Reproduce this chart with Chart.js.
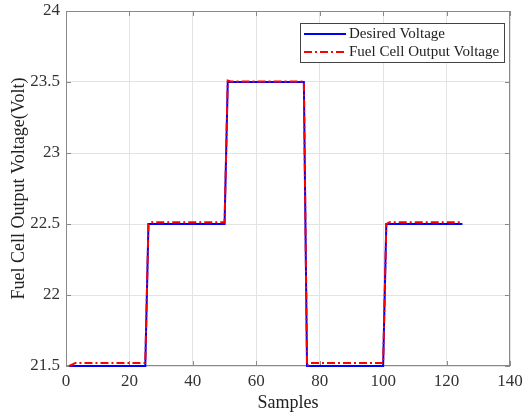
<!DOCTYPE html>
<html lang="en">
<head>
  <meta charset="UTF-8" />
  <title>Fuel Cell Output Voltage</title>
  <script src="https://cdn.jsdelivr.net/npm/chart.js"></script>
  <style>
    body {
      margin: 0;
      padding: 0;
      background: #fff;
    }
    #grafico {
      display: block;
    }
  </style>
</head>
<body>
  <canvas id="grafico" width="528" height="414"></canvas>

  <script>
    // step corners of each series (samples, volts)
    const desiredSamples = [1, 25, 26, 50, 51, 75, 76, 100, 101, 125];
    const desiredVolts   = [21.5, 21.5, 22.5, 22.5, 23.5, 23.5, 21.5, 21.5, 22.5, 22.5];

    const outputSamples = [1, 3, 25, 26, 27, 50, 51, 52, 75, 76, 77, 100, 101, 102, 125];
    const outputVolts   = [21.5, 21.522, 21.522, 22.5, 22.512, 22.512, 23.51, 23.503, 23.503, 21.5, 21.522, 21.522, 22.5, 22.513, 22.513];

    const xTicks = [0, 20, 40, 60, 80, 100, 120, 140];
    const yTicks = [21.5, 22, 22.5, 23, 23.5, 24];

    const serif = "'Liberation Serif', 'Times New Roman', serif";
    const frameColor = '#8a8a8a';

    function pontos(xs, ys) {
      return xs.map((x, i) => ({ x: x, y: ys[i] }));
    }

    // box round the plot + inward ticks, like matlab
    const molduraPlugin = {
      id: 'moldura',
      beforeDatasetsDraw(chart) {
        const { ctx, chartArea: a, scales } = chart;
        ctx.save();
        ctx.strokeStyle = frameColor;
        ctx.lineWidth = 1;
        ctx.strokeRect(a.left + 0.5, a.top + 0.5, a.right - a.left - 1, a.bottom - a.top - 1);
        ctx.beginPath();
        xTicks.forEach(v => {
          const px = Math.round(scales.x.getPixelForValue(v)) + 0.5;
          ctx.moveTo(px, a.bottom); ctx.lineTo(px, a.bottom - 5);
          ctx.moveTo(px, a.top); ctx.lineTo(px, a.top + 5);
        });
        yTicks.forEach(v => {
          const py = Math.round(scales.y.getPixelForValue(v)) + 0.5;
          ctx.moveTo(a.left, py); ctx.lineTo(a.left + 5, py);
          ctx.moveTo(a.right, py); ctx.lineTo(a.right - 5, py);
        });
        ctx.stroke();
        ctx.restore();
      }
    };

    // legend box inside the top right corner
    const legendaPlugin = {
      id: 'legenda',
      afterDraw(chart) {
        const { ctx, chartArea: a } = chart;
        const itens = [chart.data.datasets[0], chart.data.datasets[1]];
        const w = 204, h = 39;
        const x0 = a.right - 6 - w, y0 = a.top + 12;
        ctx.save();
        ctx.fillStyle = '#fff';
        ctx.fillRect(x0, y0, w, h);
        ctx.strokeStyle = '#444';
        ctx.lineWidth = 1;
        ctx.strokeRect(x0 + 0.5, y0 + 0.5, w, h);
        ctx.font = '15px ' + serif;
        ctx.textBaseline = 'middle';
        itens.forEach((ds, i) => {
          const yy = y0 + 11 + i * 18;
          ctx.beginPath();
          ctx.strokeStyle = ds.borderColor;
          ctx.lineWidth = 2;
          ctx.setLineDash(ds.borderDash || []);
          ctx.moveTo(x0 + 4, yy);
          ctx.lineTo(x0 + 46, yy);
          ctx.stroke();
          ctx.setLineDash([]);
          ctx.fillStyle = '#222';
          ctx.fillText(ds.label, x0 + 49, yy);
        });
        ctx.restore();
      }
    };

    const ctx = document.getElementById('grafico').getContext('2d');
    new Chart(ctx, {
      type: 'line',
      data: {
        datasets: [{
          label: 'Desired Voltage',
          data: pontos(desiredSamples, desiredVolts),
          borderColor: '#0000ff',
          borderWidth: 2,
          pointRadius: 0,
          tension: 0,
          clip: false,
          order: 2
        }, {
          label: 'Fuel Cell Output Voltage',
          data: pontos(outputSamples, outputVolts),
          borderColor: '#ff0000',
          borderWidth: 2,
          borderDash: [8, 3, 2, 3],
          pointRadius: 0,
          tension: 0,
          clip: false,
          order: 1
        }]
      },
      options: {
        responsive: false,
        animation: false,
        layout: { padding: { top: 11, right: 18, left: 0, bottom: 0 } },
        plugins: {
          legend: { display: false },
          tooltip: { enabled: false }
        },
        scales: {
          x: {
            type: 'linear',
            min: 0,
            max: 140,
            afterBuildTicks: s => { s.ticks = xTicks.map(v => ({ value: v })); },
            afterFit: s => { s.height = 48; s.paddingLeft = 0; s.paddingRight = 0; },
            grid: { color: '#e3e3e3', drawTicks: false },
            border: { display: false },
            ticks: {
              padding: 5,
              color: '#333',
              font: { family: serif, size: 17 }
            },
            title: {
              display: true,
              text: 'Samples',
              color: '#222',
              padding: { top: 0, bottom: 0 },
              font: { family: serif, size: 18 }
            }
          },
          y: {
            type: 'linear',
            min: 21.5,
            max: 24,
            afterBuildTicks: s => { s.ticks = yTicks.map(v => ({ value: v })); },
            afterFit: s => { s.width = 66; s.paddingTop = 0; s.paddingBottom = 0; },
            grid: { color: '#e3e3e3', drawTicks: false },
            border: { display: false },
            ticks: {
              padding: 6,
              color: '#333',
              font: { family: serif, size: 17 },
              callback: v => String(Number(v.toFixed(1)))
            },
            title: {
              display: true,
              text: 'Fuel Cell Output Voltage(Volt)',
              color: '#222',
              padding: { top: 8, bottom: 0 },
              font: { family: serif, size: 18 }
            }
          }
        }
      },
      plugins: [molduraPlugin, legendaPlugin]
    });
  </script>
</body>
</html>
